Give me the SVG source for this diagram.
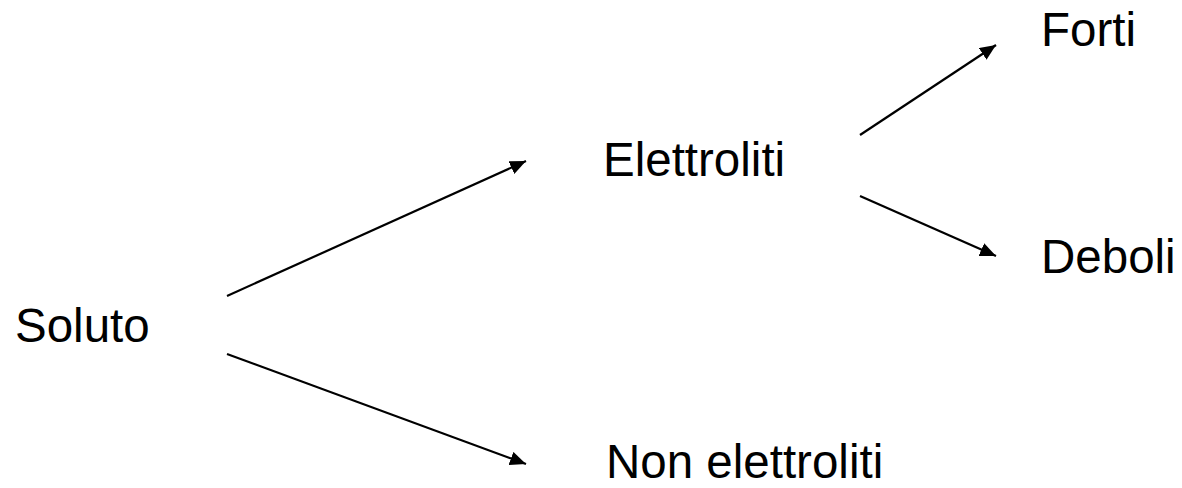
<svg xmlns="http://www.w3.org/2000/svg" width="1182" height="488" viewBox="0 0 1182 488">
<style>
.t{font-family:"Liberation Sans",Arial,sans-serif;font-size:47.5px;fill:#000}
.c{stroke:#000;stroke-width:2.2;fill:none;marker-end:url(#ah)}
</style>
<defs>
<marker id="ah" markerUnits="userSpaceOnUse" markerWidth="17" markerHeight="14" refX="16" refY="7" orient="auto">
<path d="M0,0 L16,7 L0,14 Z" fill="#000"/>
</marker>
</defs>
<rect width="1182" height="488" fill="#fff"/>
<g id="connectors">
<line class="c" x1="227" y1="296" x2="526" y2="161"/>
<line class="c" x1="227" y1="354" x2="526" y2="464"/>
<line class="c" x1="860" y1="135" x2="996" y2="45"/>
<line class="c" x1="860" y1="196" x2="996" y2="256"/>
</g>
<g id="soluto"><text class="t" x="15" y="341.5">Soluto</text></g>
<g id="elettroliti"><text class="t" x="603" y="176">Elettroliti</text></g>
<g id="non-elettroliti"><text class="t" x="606" y="477.5">Non elettroliti</text></g>
<g id="forti"><text class="t" x="1041" y="46">Forti</text></g>
<g id="deboli"><text class="t" x="1041" y="272.5">Deboli</text></g>
</svg>
